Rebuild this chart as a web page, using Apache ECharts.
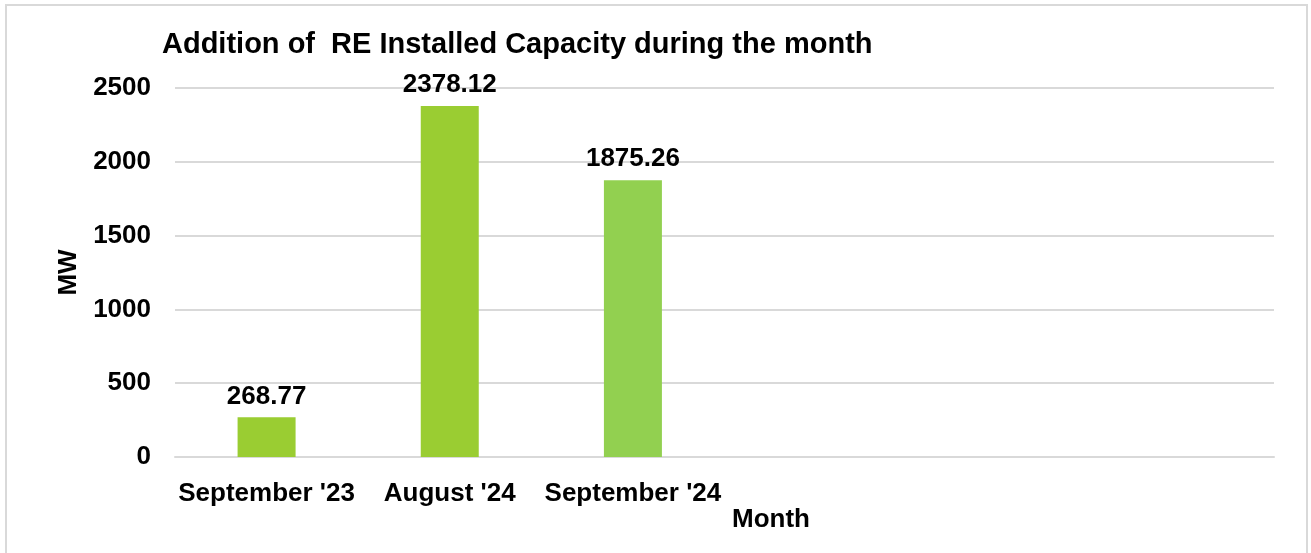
<!DOCTYPE html>
<html>
<head>
<meta charset="utf-8">
<title>RE Installed Capacity</title>
<script src="https://cdn.jsdelivr.net/npm/echarts@6/dist/echarts.min.js"></script>
<style>
    html, body { margin: 0; padding: 0; background: #fff; }
    #frame { position: absolute; left: 5px; top: 4px; width: 1303px; height: 560px; border: 2px solid #d9d9d9; box-sizing: border-box; }
    #re_capacity { position: absolute; left: 0; top: 0; width: 1311px; height: 553px; }
</style>
</head>
<body>
<div id="frame"></div>
<div id="re_capacity"></div>
<script>
// Chart data
var months = ['September \'23', 'August \'24', 'September \'24', '', '', ''];
var capacityMW = [268.77, 2378.12, 1875.26];
var barColors = ['#9acd32', '#9acd32', '#92d050'];
var yTicks = [0, 500, 1000, 1500, 2000, 2500];

var fontFamily = '"Liberation Sans", Arial, sans-serif';

// Initialize chart
var chart = echarts.init(document.getElementById('re_capacity'));

chart.setOption({
    animation: false,
    textStyle: { fontFamily: fontFamily },

    title: {
        text: 'Addition of  RE Installed Capacity during the month',
        left: 157,
        top: 25,
        textStyle: { fontSize: 29, fontWeight: 'bold', color: '#000' }
    },

    grid: { left: 175, right: 37, top: 88, bottom: 96 },

    xAxis: {
        type: 'category',
        data: months,
        name: 'Month',
        nameLocation: 'middle',
        nameMoveOverlap: false,
        nameGap: 50,
        nameTextStyle: { fontSize: 26, fontWeight: 'bold', color: '#000', padding: [0, 0, 0, 93] },
        axisLine: { lineStyle: { color: '#d9d9d9', width: 2 } },
        axisTick: { show: false },
        axisLabel: { fontSize: 26, fontWeight: 'bold', color: '#000', margin: 24, interval: 0 }
    },

    yAxis: {
        type: 'value',
        min: yTicks[0],
        max: yTicks[yTicks.length - 1],
        interval: 500,
        name: 'MW',
        nameLocation: 'middle',
        nameGap: 92,
        nameTextStyle: { fontSize: 26, fontWeight: 'bold', color: '#000' },
        axisLine: { show: false },
        axisTick: { show: false },
        axisLabel: {
            fontSize: 26,
            fontWeight: 'bold',
            color: '#000',
            margin: 24,
            formatter: function(v) { return String(v); }
        },
        splitLine: { lineStyle: { color: '#d9d9d9', width: 2 } }
    },

    series: [{
        type: 'bar',
        barWidth: 58,
        data: capacityMW.map(function(v, i) {
            return { value: v, itemStyle: { color: barColors[i] } };
        }),
        label: {
            show: true,
            position: 'top',
            distance: 8,
            fontSize: 26,
            fontWeight: 'bold',
            color: '#000'
        }
    }]
});
</script>
</body>
</html>
